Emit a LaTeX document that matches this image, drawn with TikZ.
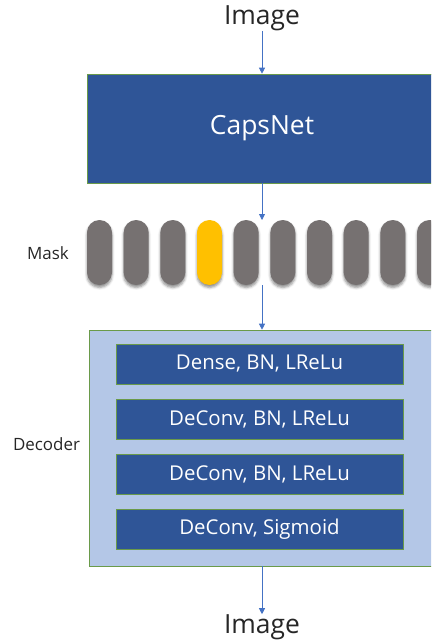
\documentclass[tikz,border=0pt]{standalone}
\usepackage{fontspec}
\setmainfont{Open Sans}
\usetikzlibrary{positioning,arrows.meta,shadows.blur}
\definecolor{capsblue}{HTML}{2F5597}
\definecolor{declight}{HTML}{B4C7E7}
\definecolor{boxedge}{HTML}{6A9A4A}
\definecolor{capsgray}{HTML}{767171}
\definecolor{capsyellow}{HTML}{FFC000}
\definecolor{flowblue}{HTML}{4472C4}
\definecolor{labeltext}{HTML}{262626}
\begin{document}
\begin{tikzpicture}%
	[	x={(1bp,0bp)},
	y={(0bp,-1bp)},
	io/.style={text=labeltext, font=\fontsize{26.5}{30}\selectfont, inner sep=0pt},
	side/.style={text=labeltext, font=\fontsize{17}{20}\selectfont, inner sep=0pt},
	netbox/.style={draw=boxedge, line width=0.6bp, fill=capsblue, text=white, font=\fontsize{26.5}{30}\selectfont},
	layerbox/.style={draw=boxedge, line width=0.6bp, fill=capsblue, text=white, font=\fontsize{20.5}{24}\selectfont,
		minimum width=287bp, minimum height=40bp, inner sep=0pt},
	decbox/.style={draw=boxedge, line width=0.6bp, fill=declight, minimum width=346bp, minimum height=236bp},
	capsule/.style={minimum width=25bp, minimum height=65bp, inner sep=0pt, rounded corners=12.5bp,
		blur shadow={shadow xshift=0bp, shadow yshift=-2.5bp, shadow blur radius=2.5bp, shadow opacity=45}},
	flow/.style={draw=flowblue, line width=0.8bp, -{Triangle[width=6bp,length=6bp]}}]

\clip (0,0) rectangle (431,641);

% network
\node[io] (imgin) at (262,18) {Image};
\node[netbox, minimum width=350bp, minimum height=109bp] (caps) at (262,128.5) {CapsNet};

% mask vector
\foreach \i/\col in {0/capsgray,1/capsgray,2/capsgray,3/capsyellow,4/capsgray,5/capsgray,6/capsgray,7/capsgray,8/capsgray,9/capsgray}
	\node[capsule, fill=\col] (c\i) at ({99.5+36.67*\i},252.5) {};
\coordinate (maskin) at (262,220);
\coordinate (maskout) at (262,285);
\node[side] (masklbl) at (48,253) {Mask};

% decoder
\node[decbox] (dec) at (262,448) {};
\node[layerbox] (l1) at (259.5,364) {Dense, BN, LReLu};
\node[layerbox] (l2) at (259.5,419.5) {DeConv, BN, LReLu};
\node[layerbox] (l3) at (259.5,474) {DeConv, BN, LReLu};
\node[layerbox] (l4) at (259.5,529) {DeConv, Sigmoid};
\node[side] (declbl) at (46.5,444) {Decoder};

\node[io] (imgout) at (262,627) {Image};

\draw[flow] (imgin) -- (caps);
\draw[flow] (caps) -- (maskin);
\draw[flow] (maskout) -- (dec);
\draw[flow] (dec) -- (imgout);
\end{tikzpicture}
\end{document}
